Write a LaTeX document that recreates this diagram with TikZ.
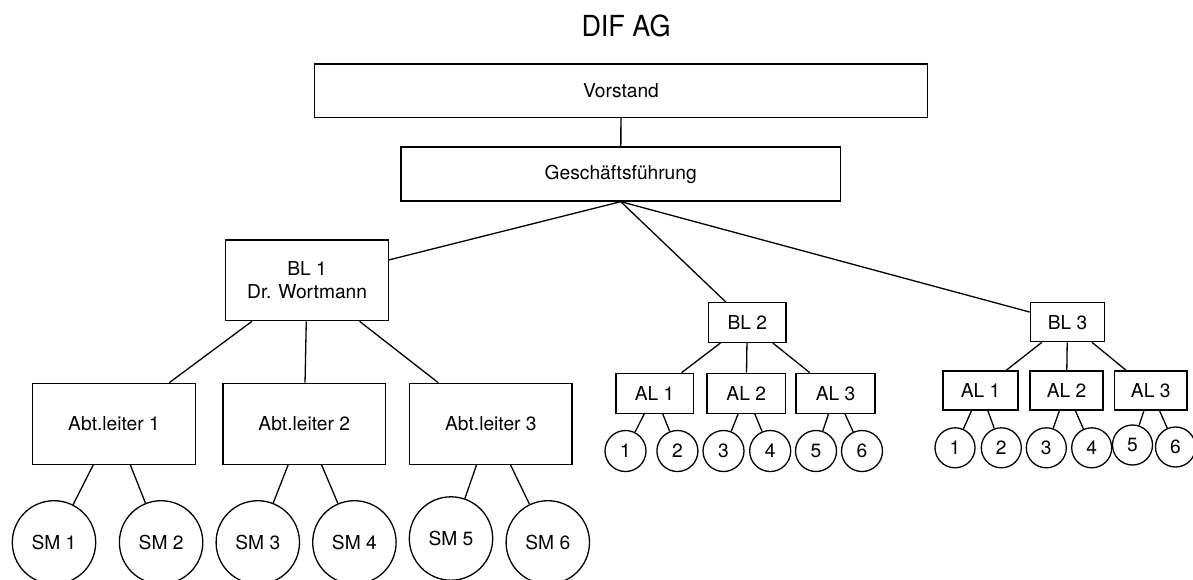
\documentclass[tikz,border=0pt]{standalone}
\usepackage{fontspec}
\setmainfont{TeX Gyre Heros}
\begin{document}
\begin{tikzpicture}[x=1pt,y=-1pt,
  box/.style={draw, line width=1.3pt, inner sep=0pt, align=center,
    font=\fontsize{19.2}{22.7}\selectfont},
  circ/.style={draw, circle, line width=1.3pt, inner sep=0pt,
    font=\fontsize{19.2}{22.7}\selectfont},
  conn/.style={line width=1.3pt}]
\useasboundingbox (0,0) rectangle (1193,579);

\node[font=\fontsize{29}{32}\selectfont] (title) at (626,25.5) {\scalebox{0.93}[1]{DIF AG}};

\node[box, minimum width=613pt, minimum height=53.3pt] (vor) at (621,90.7) {Vorstand};
\node[box, minimum width=439.5pt, minimum height=54pt] (gf) at (620.75,174) {Geschäftsführung};

\node[box, minimum width=162.6pt, minimum height=80.7pt] (bl1) at (307.1,280.35) {BL 1\\Dr. Wortmann};
\node[box, minimum width=77.5pt, minimum height=39.6pt] (bl2) at (747.25,322.5) {BL 2};
\node[box, minimum width=74pt, minimum height=39pt] (bl3) at (1067.5,322.2) {BL 3};

% Abteilungsleiter under BL 1
\node[box, minimum width=162.4pt, minimum height=81pt] (abt1) at (114,423.8) {Abt.leiter 1};
\node[box, minimum width=162.4pt, minimum height=81pt] (abt2) at (304.2,423.8) {Abt.leiter 2};
\node[box, minimum width=162.4pt, minimum height=81pt] (abt3) at (490.8,423.8) {Abt.leiter 3};

\node[circ, minimum size=83.4pt] (sm1) at (54,542.4) {SM 1};
\node[circ, minimum size=83.4pt] (sm2) at (161.1,542.4) {SM 2};
\node[circ, minimum size=83.4pt] (sm3) at (257.8,542.4) {SM 3};
\node[circ, minimum size=83.4pt] (sm4) at (354.4,542.4) {SM 4};
\node[circ, minimum size=83.4pt] (sm5) at (451,538.5) {SM 5};
\node[circ, minimum size=83.4pt] (sm6) at (547.8,542.4) {SM 6};

% AL under BL 2
\node[box, minimum width=77.5pt, minimum height=40pt] (al21) at (654.6,393.3) {AL 1};
\node[box, minimum width=78.3pt, minimum height=40pt] (al22) at (746.2,393.3) {AL 2};
\node[box, minimum width=79pt, minimum height=40pt] (al23) at (835.5,393.3) {AL 3};

\node[circ, minimum size=41pt] (c21) at (625.5,451) {1};
\node[circ, minimum size=41pt] (c22) at (677.4,451) {2};
\node[circ, minimum size=41pt] (c23) at (723.5,451) {3};
\node[circ, minimum size=41pt] (c24) at (770.2,451) {4};
\node[circ, minimum size=41pt] (c25) at (816,451) {5};
\node[circ, minimum size=41pt] (c26) at (862,451) {6};

% AL under BL 3
\node[box, minimum width=75pt, minimum height=39pt] (al31) at (980.5,390.5) {AL 1};
\node[box, minimum width=73pt, minimum height=39pt] (al32) at (1066.5,390.5) {AL 2};
\node[box, minimum width=72.6pt, minimum height=39pt] (al33) at (1150.7,390.5) {AL 3};

\node[circ, minimum size=40pt] (c31) at (955,447.8) {1};
\node[circ, minimum size=40pt] (c32) at (1001.3,447.8) {2};
\node[circ, minimum size=40pt] (c33) at (1046.3,447.8) {3};
\node[circ, minimum size=40pt] (c34) at (1091.7,447.8) {4};
\node[circ, minimum size=40pt] (c35) at (1132.5,445) {5};
\node[circ, minimum size=40pt] (c36) at (1175.5,447) {6};

% connectors
\draw[conn] (vor) -- (gf);
\draw[conn] (gf.south) -- (bl1);
\draw[conn] (gf.south) -- (bl2);
\draw[conn] (gf.south) -- (bl3);

\draw[conn] (bl1) -- (abt1);
\draw[conn] (bl1) -- (abt2);
\draw[conn] (bl1) -- (abt3);
\draw[conn] (abt1) -- (sm1);
\draw[conn] (abt1) -- (sm2);
\draw[conn] (abt2) -- (sm3);
\draw[conn] (abt2) -- (sm4);
\draw[conn] (abt3) -- (sm5);
\draw[conn] (abt3) -- (sm6);

\draw[conn] (bl2) -- (al21);
\draw[conn] (bl2) -- (al22);
\draw[conn] (bl2) -- (al23);
\draw[conn] (al21) -- (c21);
\draw[conn] (al21) -- (c22);
\draw[conn] (al22) -- (c23);
\draw[conn] (al22) -- (c24);
\draw[conn] (al23) -- (c25);
\draw[conn] (al23) -- (c26);

\draw[conn] (bl3) -- (al31);
\draw[conn] (bl3) -- (al32);
\draw[conn] (bl3) -- (al33);
\draw[conn] (al31) -- (c31);
\draw[conn] (al31) -- (c32);
\draw[conn] (al32) -- (c33);
\draw[conn] (al32) -- (c34);
\draw[conn] (al33) -- (c35);
\draw[conn] (al33) -- (c36);
\end{tikzpicture}
\end{document}
